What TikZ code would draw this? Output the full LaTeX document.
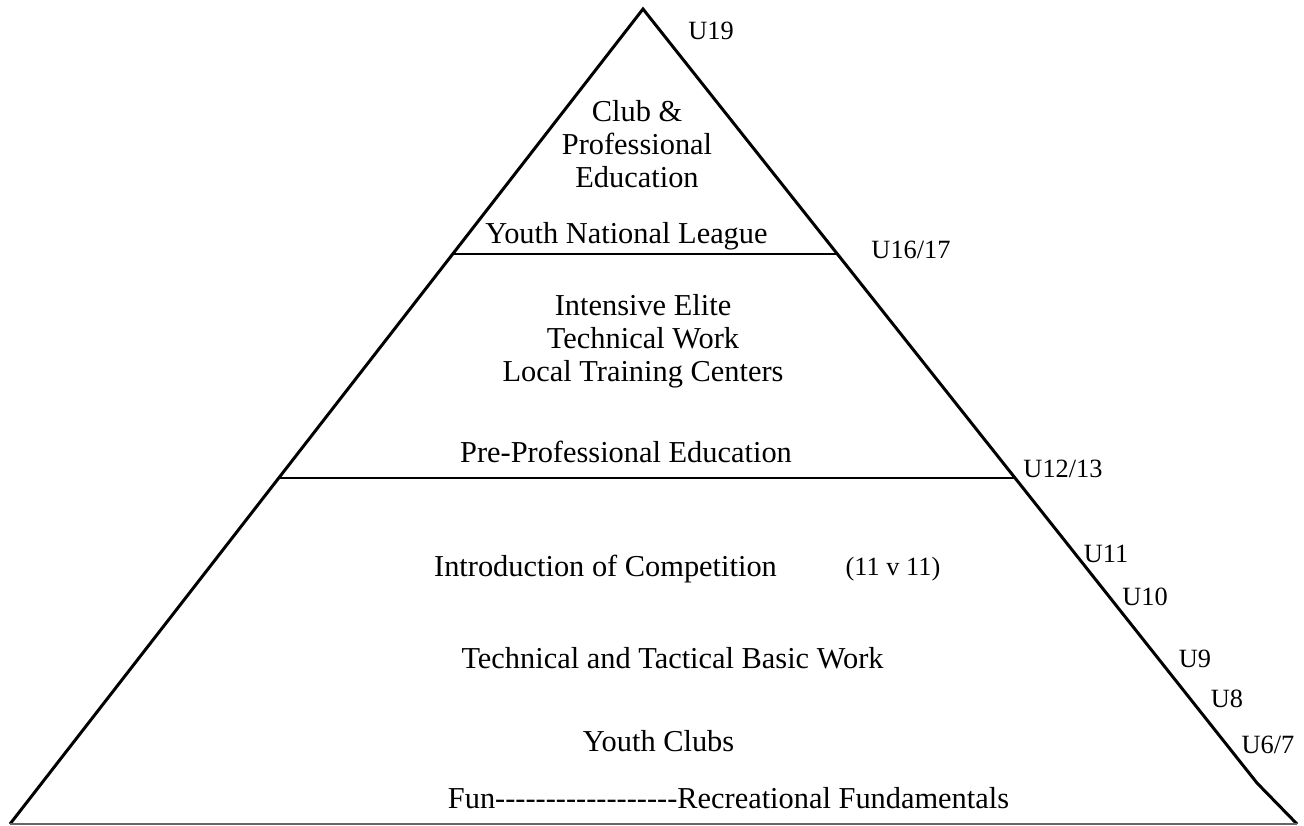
\documentclass[tikz,border=0pt]{standalone}
\usepackage{fontspec}
\setmainfont{Liberation Serif}[Ligatures=TeXOff]

\begin{document}
\begin{tikzpicture}[x=0.02cm,y=-0.02cm]
  \tikzstyle{side}=[line width=1.7pt,black]
  \tikzstyle{divider}=[line width=1.1pt,black]
  \tikzstyle{ground}=[line width=1.1pt,black!60]
  \tikzstyle{stage}=[anchor=base,inner sep=0pt,align=center,font=\fontsize{17.3}{18.8}\selectfont]
  \tikzstyle{age}=[anchor=base,inner sep=0pt,font=\fontsize{15}{17}\selectfont]

  \useasboundingbox (0,0) rectangle (1304,825);

  % outline of the pyramid
  \coordinate (apex) at (643,9);
  \coordinate (bl) at (10,824);
  \coordinate (rb) at (1257,783);
  \coordinate (br) at (1297,824);
  \coordinate (d1l) at (453,254);
  \coordinate (d1r) at (837,254);
  \coordinate (d2l) at (279,478);
  \coordinate (d2r) at (1015,478);

  \draw [side] (bl) -- (apex) -- (rb) -- (br);
  \draw [ground] (bl) -- (br);
  \draw [divider] (d1l) -- (d1r);
  \draw [divider] (d2l) -- (d2r);

  % levels (base = last line)
  \node [stage] (club) at (637,187.7) {Club \&\\Professional\\Education};
  \node [stage] (ynl) at (626.5,243.3) {Youth National League};
  \node [stage] (elite) at (643,381.7) {Intensive Elite\\Technical Work\\Local Training Centers};
  \node [stage] (preprof) at (626,462.3) {Pre-Professional Education};
  \node [stage] (intro) at (605.5,576.7) {Introduction of Competition};
  \node [age] (eleven) at (893,575) {(11 v 11)};
  \node [stage] (basic) at (672.5,668.3) {Technical and Tactical Basic Work};
  \node [stage] (clubs) at (658.5,751.7) {Youth Clubs};
  \node [stage] (fun) at (728.5,808.3) {Fun------------------Recreational Fundamentals};

  % ages
  \node [age] (u19) at (711,39) {U19};
  \node [age] (u16) at (911,258) {U16/17};
  \node [age] (u12) at (1063,477) {U12/13};
  \node [age] (u11) at (1106,562) {U11};
  \node [age] (u10) at (1145,605) {U10};
  \node [age] (u9) at (1195,667) {U9};
  \node [age] (u8) at (1227,707) {U8};
  \node [age] (u6) at (1268,753) {U6/7};
\end{tikzpicture}
\end{document}
